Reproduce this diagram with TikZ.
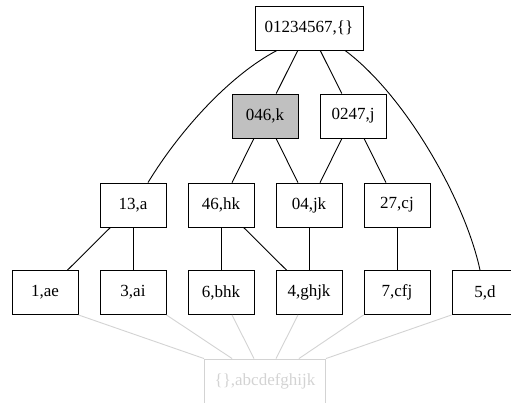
\documentclass[tikz,border=0pt]{standalone}
\usepackage{fontspec}
\setmainfont{Liberation Serif}
\usetikzlibrary{calc}
\definecolor{lgray}{HTML}{D3D3D3}
\definecolor{fgray}{HTML}{C0C0C0}
\tikzset{
  box/.style={draw=black, line width=0.9pt, minimum width=66pt, minimum height=44pt, inner sep=0pt, font=\fontsize{17}{20}\selectfont},
  gbox/.style={box, draw=lgray, text=lgray},
  edge/.style={draw=black, line width=0.9pt},
  gedge/.style={draw=lgray, line width=0.9pt}
}
\begin{document}
\begin{tikzpicture}[x=1pt, y=-1pt]
\useasboundingbox (0,0) rectangle (511,402);
\node[box, minimum width=108pt] (top) at (309,28) {01234567,\{\}};
\node[box, fill=fgray] (k046) at (265,116) {046,k};
\node[box] (j0247) at (353,116) {0247,j};
\node[box] (a13) at (133,205) {13,a};
\node[box] (hk46) at (221,205) {46,hk};
\node[box] (jk04) at (309,205) {04,jk};
\node[box] (cj27) at (397,205) {27,cj};
\node[box] (b1) at (45,292.5) {1,ae};
\node[box] (b3) at (133,292.5) {3,ai};
\node[box] (b6) at (221,292.5) {6,bhk};
\node[box] (b4) at (309,292.5) {4,ghjk};
\node[box] (b7) at (397,292.5) {7,cfj};
\node[box] (b5) at (485,292.5) {5,d};
\node[gbox, minimum width=121pt] (bot) at (265,381) {\{\},abcdefghijk};
% black edges
\draw[edge] ([xshift=-32pt]top.south) .. controls (230,75) and (180,130) .. ([xshift=15pt]a13.north);
\draw[edge] ([xshift=36pt]top.south) .. controls (405,95) and (465,200) .. ([xshift=-5pt]b5.north);
\draw[edge] (top) -- (k046);
\draw[edge] (top) -- (j0247);
\draw[edge] (k046) -- (hk46);
\draw[edge] (k046) -- (jk04);
\draw[edge] (j0247) -- (jk04);
\draw[edge] (j0247) -- (cj27);
\draw[edge] (a13) -- (b1);
\draw[edge] (a13) -- (b3);
\draw[edge] (hk46) -- (b6);
\draw[edge] (hk46) -- (b4);
\draw[edge] (jk04) -- (b4);
\draw[edge] (cj27) -- (b7);
% gray edges
\draw[gedge] (b1.south east) -- (bot.north west);
\draw[gedge] (b3.south east) -- ([xshift=28pt]bot.north west);
\draw[gedge] ([xshift=11pt]b6.south) -- ([xshift=-11pt]bot.north);
\draw[gedge] ([xshift=-11pt]b4.south) -- ([xshift=11pt]bot.north);
\draw[gedge] (b7.south west) -- ([xshift=-27pt]bot.north east);
\draw[gedge] (b5.south west) -- (bot.north east);
\end{tikzpicture}
\end{document}
